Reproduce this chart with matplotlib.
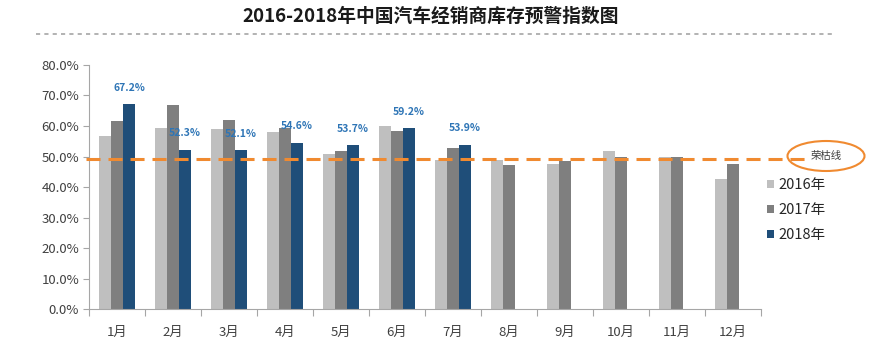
import numpy as np
import matplotlib.pyplot as plt
from matplotlib.patches import Ellipse, Patch
from matplotlib.lines import Line2D

plt.rcParams['font.family'] = ['Noto Sans CJK SC', 'DejaVu Sans']

# -----------------------
# Data
# -----------------------
months = ['1月', '2月', '3月', '4月', '5月', '6月', '7月', '8月', '9月', '10月', '11月', '12月']
years = ['2016年', '2017年', '2018年']
v2016 = [56.6, 59.5, 59.0, 58.0, 51.0, 59.9, 49.0, 49.0, 47.5, 51.7, 49.7, 42.8]
v2017 = [61.5, 66.8, 62.1, 59.3, 51.7, 58.5, 52.7, 47.2, 48.6, 49.8, 49.7, 47.7]
v2018 = [67.2, 52.3, 52.1, 54.6, 53.7, 59.2, 53.9, np.nan, np.nan, np.nan, np.nan, np.nan]
warn_level = 49.3
warn_label = '荣枯线'
title = '2016-2018年中国汽车经销商库存预警指数图'

colors = ['#BFBFBF', '#7F7F7F', '#1F4E79']
label_color = '#2E75B6'
orange = '#F08A30'

# -----------------------
# Figure
# -----------------------
fig = plt.figure(figsize=(8.89, 3.55), dpi=100)
ax = fig.add_axes([0.100, 0.129, 0.756, 0.688])

x = np.arange(len(months))
w = 0.215
for i, vals in enumerate([v2016, v2017, v2018]):
    ax.bar(x + (i - 1) * w, vals, width=w, color=colors[i], zorder=2)

# value labels for 2018
for xi, v in zip(x, v2018):
    if np.isnan(v):
        continue
    ax.text(xi + w, v + 5.3, f'{v:.1f}%', ha='center', va='center',
            fontsize=7.5, fontweight='bold', color=label_color, zorder=4)

# warning line
ax.plot([-0.55, 12.35], [warn_level, warn_level], color=orange, lw=2.2,
        dashes=(4.6, 2.6), clip_on=False, zorder=3)

ax.set_xlim(-0.5, 11.5)
ax.set_ylim(0, 80)
ax.set_yticks(np.arange(0, 81, 10))
ax.set_yticklabels([f'{t:.1f}%' for t in np.arange(0, 81, 10)], fontsize=9.5, color='#404040')
ax.set_xticks(np.arange(-0.5, 12, 1))
ax.set_xticklabels([])
ax.set_xticks(x, minor=True)
ax.set_xticklabels(months, minor=True, fontsize=9.5, color='#404040')
ax.tick_params(axis='x', which='major', length=5, color='#A6A6A6', direction='out')
ax.tick_params(axis='x', which='minor', length=0, pad=12)
ax.tick_params(axis='y', length=4, color='#A6A6A6', direction='out', pad=3)
for s in ['top', 'right']:
    ax.spines[s].set_visible(False)
for s in ['left', 'bottom']:
    ax.spines[s].set_color('#A6A6A6')

# ellipse with label
ell = Ellipse((826 / 889, 1 - 156 / 355), 77 / 889, 30 / 355, transform=fig.transFigure,
              fill=False, edgecolor=orange, lw=1.5)
fig.patches.append(ell)
fig.text(826 / 889, 1 - 156 / 355, warn_label, ha='center', va='center', fontsize=7.5, color='#404040')

# legend
handles = [Patch(facecolor=c, edgecolor='none') for c in colors]
fig.legend(handles, years, loc='upper left', bbox_to_anchor=(0.848, 0.535), frameon=False,
           fontsize=10.5, handlelength=0.5, handleheight=0.5, handletextpad=0.3,
           labelspacing=0.75, labelcolor='#262626')

# title and dashed rule
fig.text(0.484, 0.955, title, ha='center', va='center', fontsize=13.5, fontweight='bold', color='#1a1a1a')
fig.add_artist(Line2D([0.04, 0.94], [0.905, 0.905], transform=fig.transFigure,
                      color='#A6A6A6', lw=1.2, dashes=(2.5, 2.5)))

fig.savefig('out.png', dpi=100)
